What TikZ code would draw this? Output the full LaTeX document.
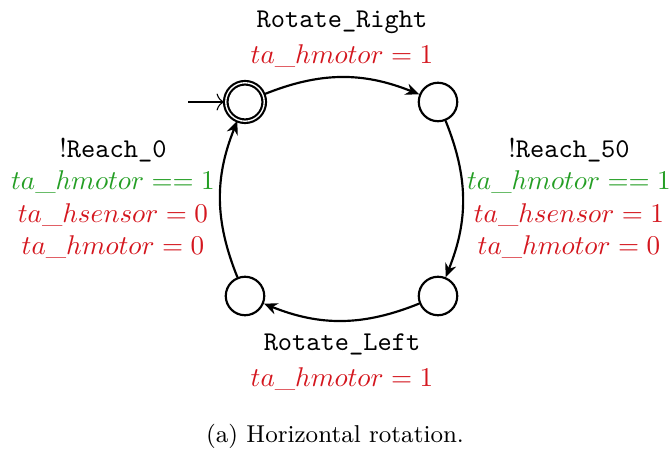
\documentclass[tikz,border=0pt]{standalone}
\usetikzlibrary{arrows.meta}
\definecolor{upred}{RGB}{212,22,30}
\definecolor{upgreen}{RGB}{36,158,36}
\begin{document}
\begin{tikzpicture}[x=0.369pt,y=0.369pt,
  statenode/.style={circle,draw,line width=0.8pt,minimum size=14.2pt,inner sep=0pt},
  initstate/.style={statenode,double,double distance=0.5pt},
  edgearrow/.style={line width=0.8pt,-{Stealth[length=5pt,width=4.2pt]},bend left=22},
  initarrow/.style={line width=0.4pt,-{To[length=3pt]}},
  lbl/.style={align=center,inner sep=0pt}]
\useasboundingbox (0,0) rectangle (669,450);
\node[initstate] (A) at (245,348) {};
\node[statenode] (B) at (438,348) {};
\node[statenode] (C) at (438,154) {};
\node[statenode] (D) at (245,154) {};
\coordinate (init) at (188,348);
\draw[initarrow] (init) -- (A);
\draw[edgearrow] (A) to (B);
\draw[edgearrow] (B) to (C);
\draw[edgearrow] (C) to (D);
\draw[edgearrow] (D) to (A);
\node[lbl] (lt) at (342,411) {\texttt{Rotate\_Right}\\[1.5pt] \textcolor{upred}{$ta\_hmotor = 1$}};
\node[lbl] (ll) at (113,252) {!\texttt{Reach\_0}\\ \textcolor{upgreen}{$ta\_hmotor == 1$}\\ \textcolor{upred}{$ta\_hsensor = 0$}\\ \textcolor{upred}{$ta\_hmotor = 0$}};
\node[lbl] (lr) at (569,252) {!\texttt{Reach\_50}\\ \textcolor{upgreen}{$ta\_hmotor == 1$}\\ \textcolor{upred}{$ta\_hsensor = 1$}\\ \textcolor{upred}{$ta\_hmotor = 0$}};
\node[lbl] (lb) at (342,88) {\texttt{Rotate\_Left}\\[1pt] \textcolor{upred}{$ta\_hmotor = 1$}};
\node[lbl] (cap) at (335,14) {\small (a) Horizontal rotation.};
\end{tikzpicture}
\end{document}
